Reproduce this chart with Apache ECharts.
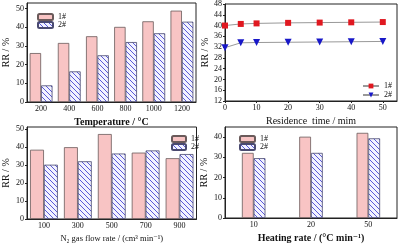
<!DOCTYPE html>
<html style="height: 100%">
<head>
	<meta charset="utf-8">
	<script src="https://cdn.jsdelivr.net/npm/echarts@6/dist/echarts.min.js"></script>
</head>
<body style="height: 100%; margin: 0; background: #fff">
	<div id="container" style="width: 400px; height: 244px"></div>
	<script type="text/javascript">
		// (a) temperature
		let tempCats = ['200', '400', '600', '800', '1000', '1200'];
		let tempS1 = [26.2, 31.6, 35.2, 40.2, 43.2, 48.9];
		let tempS2 = [8.9, 16.4, 25.0, 32.1, 36.8, 43.0];
		let tempTicks = [0, 10, 20, 30, 40, 50];
		// (b) residence time
		let timeX = [0, 5, 10, 20, 30, 40, 50];
		let timeS1 = [40.0, 40.6, 40.8, 41.0, 41.1, 41.2, 41.3];
		let timeS2 = [31.8, 33.6, 33.7, 33.8, 33.9, 34.0, 34.1];
		let timeXTicks = [0, 10, 20, 30, 40, 50];
		let timeYTicks = [12, 16, 20, 24, 28, 32, 36, 40, 44, 48];
		// (c) N2 flow
		let flowCats = ['100', '300', '500', '700', '900'];
		let flowS1 = [38.4, 39.8, 47.1, 36.8, 33.7];
		let flowS2 = [30.1, 32.0, 36.3, 38.0, 36.0];
		let flowTicks = [0, 10, 20, 30, 40, 50];
		// (d) heating rate
		let rateCats = ['10', '20', '50'];
		let rateS1 = [32.2, 40.2, 42.1];
		let rateS2 = [29.6, 32.2, 39.4];
		let rateTicks = [0, 10, 20, 30, 40];

		let serif = '"Liberation Serif", "DejaVu Serif", serif';

		// hatch fill for 2#
		let hc = document.createElement('canvas');
		hc.width = 5; hc.height = 5;
		let hx = hc.getContext('2d');
		hx.fillStyle = '#f2f2ff';
		hx.fillRect(0, 0, 5, 5);
		hx.strokeStyle = '#5a5ad8';
		hx.lineWidth = 1;
		hx.beginPath();
		hx.moveTo(-1, -1); hx.lineTo(6, 6);
		hx.moveTo(-1, 4); hx.lineTo(1, 6);
		hx.moveTo(4, -1); hx.lineTo(6, 1);
		hx.stroke();
		let hatch = { image: hc, repeat: 'repeat' };

		let pink = { color: '#f8c4c4', borderColor: '#6a5a5a', borderWidth: 0.8 };
		let blue = { color: hatch, borderColor: '#4a4a70', borderWidth: 0.8 };

		let grids = [
			{ left: 25, top: 3, width: 171, height: 99 },
			{ left: 225, top: 2, width: 172, height: 99 },
			{ left: 25.5, top: 127, width: 171, height: 99 },
			{ left: 225, top: 127, width: 172, height: 98 }
		];
		grids.forEach(function (g) {
			g.show = true;
			g.borderColor = '#222';
			g.borderWidth = 1;
			g.backgroundColor = 'transparent';
		});

		let axLine = { show: true, lineStyle: { color: '#222', width: 1 } };
		let lbl = { color: '#111', fontSize: 8, fontFamily: serif, margin: 3 };
		let nameStyle = { color: '#111', fontSize: 10, fontFamily: serif, fontWeight: 'bold' };

		function catAxis(idx, data, name, nameFont) {
			return {
				type: 'category', gridIndex: idx, data: data,
				axisLine: axLine,
				axisTick: { alignWithLabel: true, length: 2, lineStyle: { color: '#222' } },
				axisLabel: lbl,
				name: name, nameLocation: 'middle', nameGap: 15,
				nameTextStyle: nameFont || nameStyle
			};
		}

		function valAxis(idx, min, max, ticks, name, gap) {
			return {
				type: 'value', gridIndex: idx, min: min, max: max,
				axisLine: axLine,
				axisTick: { show: true, length: 2, customValues: ticks, lineStyle: { color: '#222' } },
				axisLabel: Object.assign({ customValues: ticks }, lbl),
				splitLine: { show: false },
				name: name, nameLocation: 'middle', nameGap: gap || 16,
				nameTextStyle: { color: '#111', fontSize: 10, fontFamily: serif }
			};
		}

		function legendFmt(n) { return n.charAt(1) + '#'; }

		let option = {
			animation: false,
			backgroundColor: '#fff',
			grid: grids,
			xAxis: [
				catAxis(0, tempCats, 'Temperature / °C'),
				{
					type: 'value', gridIndex: 1, min: 0, max: 54.5,
					axisLine: axLine,
					axisTick: { show: true, length: 2, customValues: timeXTicks, lineStyle: { color: '#222' } },
					axisLabel: Object.assign({ customValues: timeXTicks }, lbl),
					splitLine: { show: false },
					name: 'Residence  time / mim', nameLocation: 'middle', nameGap: 15,
					nameTextStyle: { color: '#111', fontSize: 10, fontFamily: serif }
				},
				catAxis(2, flowCats, 'N₂ gas flow rate / (cm³ min⁻¹)',
					{ color: '#111', fontSize: 8.5, fontFamily: serif }),
				catAxis(3, rateCats, 'Heating rate / (°C min⁻¹)')
			],
			yAxis: [
				valAxis(0, 0, 53, tempTicks, 'RR / %', 16),
				valAxis(1, 12, 48, timeYTicks, 'RR / %', 14),
				valAxis(2, 0, 51, flowTicks, 'RR / %', 16),
				valAxis(3, 0, 45, rateTicks, 'RR / %', 16)
			],
			legend: [
				{
					data: ['T1', 'T2'], left: 32, top: 8, orient: 'vertical', itemGap: 0,
					itemWidth: 15, itemHeight: 6, formatter: legendFmt,
					textStyle: { fontSize: 8, fontFamily: serif, color: '#111', lineHeight: 8 }
				},
				{
					data: ['R1', 'R2'], left: 357, top: 77, orient: 'vertical', itemGap: 1,
					itemWidth: 16, itemHeight: 6, formatter: legendFmt,
					textStyle: { fontSize: 8, fontFamily: serif, color: '#111', lineHeight: 8 }
				},
				{
					data: ['F1', 'F2'], left: 166, top: 130, orient: 'vertical', itemGap: 0,
					itemWidth: 14, itemHeight: 6, formatter: legendFmt,
					textStyle: { fontSize: 8, fontFamily: serif, color: '#111', lineHeight: 8 }
				},
				{
					data: ['H1', 'H2'], left: 234, top: 130, orient: 'vertical', itemGap: 0,
					itemWidth: 15, itemHeight: 6, formatter: legendFmt,
					textStyle: { fontSize: 8, fontFamily: serif, color: '#111', lineHeight: 8 }
				}
			],
			series: [
				{ name: 'T1', type: 'bar', xAxisIndex: 0, yAxisIndex: 0, data: tempS1, itemStyle: pink, barGap: 0, barCategoryGap: '19%' },
				{ name: 'T2', type: 'bar', xAxisIndex: 0, yAxisIndex: 0, data: tempS2, itemStyle: blue, barGap: 0, barCategoryGap: '19%' },
				{
					name: 'R1', type: 'line', xAxisIndex: 1, yAxisIndex: 1,
					data: timeX.map(function (x, i) { return [x, timeS1[i]]; }),
					symbol: 'rect', symbolSize: 6,
					lineStyle: { color: '#999', width: 1 },
					itemStyle: { color: '#e01820' }
				},
				{
					name: 'R2', type: 'line', xAxisIndex: 1, yAxisIndex: 1,
					data: timeX.map(function (x, i) { return [x, timeS2[i]]; }),
					symbol: 'triangle', symbolRotate: 180, symbolSize: 7,
					lineStyle: { color: '#999', width: 1 },
					itemStyle: { color: '#1818c8' }
				},
				{ name: 'F1', type: 'bar', xAxisIndex: 2, yAxisIndex: 2, data: flowS1, itemStyle: pink, barGap: 0, barCategoryGap: '18%' },
				{ name: 'F2', type: 'bar', xAxisIndex: 2, yAxisIndex: 2, data: flowS2, itemStyle: blue, barGap: 0, barCategoryGap: '18%' },
				{ name: 'H1', type: 'bar', xAxisIndex: 3, yAxisIndex: 3, data: rateS1, itemStyle: pink, barGap: 0, barCategoryGap: '59%' },
				{ name: 'H2', type: 'bar', xAxisIndex: 3, yAxisIndex: 3, data: rateS2, itemStyle: blue, barGap: 0, barCategoryGap: '59%' }
			]
		};

		let myChart = echarts.init(document.getElementById('container'));
		myChart.setOption(option);
	</script>
</body>
</html>
